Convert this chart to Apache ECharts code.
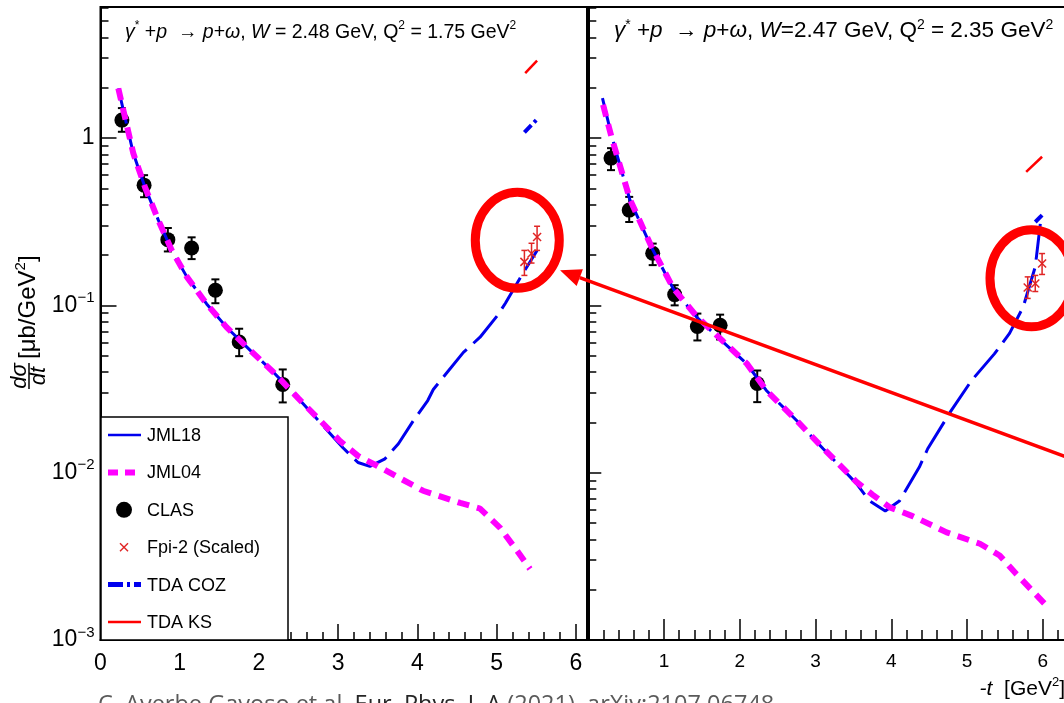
<!DOCTYPE html>
<html>
<head>
<meta charset="utf-8">
<script src="https://cdn.jsdelivr.net/npm/echarts@6.0.0/dist/echarts.min.js"></script>
<style>
  html, body { margin: 0; padding: 0; background: #fff; }
  #chart { width: 1064px; height: 703px; }
</style>
</head>
<body>
<div id="chart"></div>
<script>
  // Left panel: W = 2.48 GeV, Q2 = 1.75 GeV2.
  const leftJml18T = [0.225, 0.414, 0.56, 0.73, 0.90, 1.09, 1.34, 1.59, 1.89, 2.18, 2.50, 2.73, 3.06, 3.25, 3.40, 3.59, 3.76, 3.95, 4.13, 4.20, 4.58, 4.79, 5.01, 5.11, 5.30, 5.51];
  const leftJml18V = [1.98, 0.81, 0.511, 0.323, 0.213, 0.148, 0.102, 0.0741, 0.0538, 0.0400, 0.0277, 0.021, 0.0141, 0.0115, 0.0109, 0.0121, 0.0149, 0.0205, 0.027, 0.0314, 0.0524, 0.0645, 0.087, 0.103, 0.147, 0.213];
  const leftJml04T = [0.225, 0.414, 0.56, 0.73, 0.90, 1.09, 1.34, 1.59, 1.89, 2.18, 2.50, 2.73, 3.02, 3.25, 3.49, 4.07, 4.54, 4.79, 5.04, 5.26, 5.42];
  const leftJml04V = [1.98, 0.81, 0.511, 0.323, 0.213, 0.148, 0.102, 0.0741, 0.0538, 0.0400, 0.0277, 0.0215, 0.0155, 0.0126, 0.0110, 0.0078, 0.0066, 0.0061, 0.0047, 0.0034, 0.00266];
  const leftClasT = [0.27, 0.55, 0.85, 1.15, 1.45, 1.75, 2.3];
  const leftClasV = [1.28, 0.523, 0.247, 0.22, 0.123, 0.0604, 0.0337];
  const leftClasLo = [1.09, 0.443, 0.21, 0.189, 0.103, 0.0497, 0.0263];
  const leftClasHi = [1.51, 0.60, 0.29, 0.255, 0.143, 0.0725, 0.0414];
  const leftFpiT = [5.35, 5.44, 5.51];
  const leftFpiV = [0.182, 0.204, 0.256];
  const leftFpiLo = [0.151, 0.179, 0.213];
  const leftFpiHi = [0.213, 0.235, 0.297];
  const leftCozT = [5.35, 5.52];
  const leftCozV = [1.08, 1.31];
  const leftKsT = [5.36, 5.51];
  const leftKsV = [2.44, 2.90];

  // Right panel: W = 2.47 GeV, Q2 = 2.35 GeV2.
  const rightJml18T = [0.187, 0.31, 0.55, 0.83, 1.12, 1.43, 1.73, 2.09, 2.35, 2.75, 3.10, 3.54, 3.71, 3.92, 4.11, 4.37, 4.48, 4.79, 5.06, 5.36, 5.56, 5.74, 5.90, 5.98];
  const rightJml18V = [1.73, 1.02, 0.425, 0.224, 0.126, 0.085, 0.0632, 0.0448, 0.0310, 0.0205, 0.0139, 0.0086, 0.0068, 0.0059, 0.0068, 0.0108, 0.0139, 0.0235, 0.0356, 0.0513, 0.068, 0.0977, 0.17, 0.346];
  const rightJml04T = [0.195, 0.31, 0.55, 0.83, 1.12, 1.43, 1.73, 2.09, 2.35, 2.75, 3.10, 3.54, 3.75, 3.98, 4.28, 4.73, 5.17, 5.43, 5.65, 6.05];
  const rightJml04V = [1.58, 1.0, 0.43, 0.226, 0.127, 0.086, 0.064, 0.045, 0.031, 0.0205, 0.014, 0.0088, 0.0074, 0.0062, 0.0055, 0.0044, 0.00376, 0.0032, 0.00248, 0.0016];
  const rightClasT = [0.30, 0.54, 0.85, 1.14, 1.44, 1.74, 2.23];
  const rightClasV = [0.759, 0.371, 0.205, 0.116, 0.0748, 0.076, 0.0341];
  const rightClasLo = [0.643, 0.315, 0.174, 0.10, 0.0617, 0.0625, 0.0264];
  const rightClasHi = [0.87, 0.445, 0.234, 0.132, 0.0893, 0.088, 0.0408];
  const rightFpiT = [5.80, 5.90, 5.99];
  const rightFpiV = [0.128, 0.135, 0.178];
  const rightFpiLo = [0.110, 0.121, 0.153];
  const rightFpiHi = [0.148, 0.151, 0.204];
  const rightCozT = [5.90, 5.99];
  const rightCozV = [0.315, 0.346];
  const rightKsT = [5.78, 5.99];
  const rightKsV = [0.628, 0.773];

  // Axes.
  const yMajorTicks = [0.001, 0.01, 0.1, 1];
  const yMinorTicks = [];
  [0.001, 0.01, 0.1, 1].forEach(d => { for (let k = 2; k <= 9; k++) yMinorTicks.push(+(d * k).toPrecision(3)); });
  const legendNames = ['JML18', 'JML04', 'CLAS', 'Fpi-2 (Scaled)', 'TDA COZ', 'TDA KS'];

  const BLUE = '#0000ee';
  const PINK = '#ff00ff';
  const RED = '#ff0000';
  const FPI_RED = '#e02525';
  const FONT = 'Liberation Sans';

  function pairs(t, v) {
    return t.map((x, i) => [x, v[i]]);
  }

  function lineSeries(name, t, v, xi, yi, color, width, dash, z) {
    return {
      name: name, type: 'line', xAxisIndex: xi, yAxisIndex: yi, data: pairs(t, v),
      symbol: 'none', showSymbol: false, z: z,
      lineStyle: { color: color, width: width, type: dash, cap: 'butt' }
    };
  }

  // Vertical error bars with caps, optionally an x marker at the point.
  function barSeries(name, t, v, lo, hi, xi, yi, color, lw, cap, cross, z) {
    return {
      name: name, type: 'custom', xAxisIndex: xi, yAxisIndex: yi, z: z,
      data: t.map((x, i) => [x, v[i], lo[i], hi[i]]),
      renderItem: function (params, api) {
        const c = api.coord([api.value(0), api.value(1)]);
        const a = api.coord([api.value(0), api.value(2)]);
        const b = api.coord([api.value(0), api.value(3)]);
        const st = { stroke: color, lineWidth: lw };
        const kids = [
          { type: 'line', shape: { x1: a[0], y1: a[1], x2: b[0], y2: b[1] }, style: st },
          { type: 'line', shape: { x1: a[0] - cap, y1: a[1], x2: a[0] + cap, y2: a[1] }, style: st },
          { type: 'line', shape: { x1: b[0] - cap, y1: b[1], x2: b[0] + cap, y2: b[1] }, style: st }
        ];
        if (cross) {
          kids.push({ type: 'line', shape: { x1: c[0] - cross, y1: c[1] - cross, x2: c[0] + cross, y2: c[1] + cross }, style: st });
          kids.push({ type: 'line', shape: { x1: c[0] - cross, y1: c[1] + cross, x2: c[0] + cross, y2: c[1] - cross }, style: st });
        }
        return { type: 'group', children: kids };
      }
    };
  }

  function logLabel(v) {
    const e = Math.round(Math.log10(v));
    if (e === 0) return '{n|1}';
    return '{n|10}{e|\u2212' + (-e) + '}';
  }

  function xAxisCfg(grid, max, fontSize, major, minor, showZero) {
    return {
      gridIndex: grid, type: 'value', min: 0, max: max, interval: 1,
      axisLine: { show: true, onZero: false, lineStyle: { color: '#000', width: 2 } },
      axisTick: { show: true, inside: true, length: major, lineStyle: { color: '#000', width: 1.5 } },
      minorTick: { show: true, splitNumber: 5, length: minor, lineStyle: { color: '#000', width: 1.5 } },
      splitLine: { show: false },
      axisLabel: {
        margin: 12, color: '#000', fontSize: fontSize, fontFamily: FONT,
        formatter: v => (Number.isInteger(v) && v <= 6 && (showZero || v > 0)) ? String(v) : ''
      }
    };
  }

  function yAxisCfg(grid, major, showLabel) {
    return {
      gridIndex: grid, type: 'log', logBase: 10, min: 0.001, max: 6.07, position: 'left',
      axisLine: { show: true, onZero: false, lineStyle: { color: '#000', width: 2 } },
      axisTick: { show: true, inside: true, length: major, customValues: yMajorTicks, lineStyle: { color: '#000', width: 1.5 } },
      splitLine: { show: false },
      axisLabel: {
        show: showLabel, customValues: yMajorTicks, margin: 6, formatter: logLabel,
        rich: {
          n: { fontSize: 23, fontFamily: FONT, color: '#000', lineHeight: 30 },
          e: { fontSize: 15, fontFamily: FONT, color: '#000', verticalAlign: 'top', lineHeight: 15 }
        }
      }
    };
  }

  function yMinorCfg(grid) {
    return {
      gridIndex: grid, type: 'log', logBase: 10, min: 0.001, max: 6.07, position: 'left',
      axisLine: { show: false },
      axisTick: { show: true, inside: true, length: 8, customValues: yMinorTicks, lineStyle: { color: '#000', width: 1.5 } },
      axisLabel: { show: false },
      splitLine: { show: false }
    };
  }

  const titleRich = function (size) {
    return {
      r: { fontSize: size, fontFamily: FONT, fontWeight: 'normal', color: '#000', lineHeight: 26 },
      i: { fontSize: size, fontFamily: FONT, fontWeight: 'normal', fontStyle: 'italic', color: '#000', lineHeight: 26 },
      s: { fontSize: Math.round(size * 0.62), fontFamily: FONT, fontWeight: 'normal', color: '#000', verticalAlign: 'top', lineHeight: 13 }
    };
  };

  const option = {
    animation: false,
    backgroundColor: '#fff',
    title: [
      {
        left: 120, top: 15,
        text: '{i|\u03b3}{s|*}{r| +}{i|p}{r|  \u2192 }{i|p}{r|+}{i|\u03c9}{r|, }{i|W}{r| = 2.48 GeV, Q}{s|2}{r| = 1.75 GeV}{s|2}',
        textStyle: { fontWeight: 'normal', rich: titleRich(19.5) }
      },
      {
        left: 609, top: 13,
        text: '{i|\u03b3}{s|*}{r| +}{i|p}{r|  \u2192 }{i|p}{r|+}{i|\u03c9}{r|, }{i|W}{r|=2.47 GeV, Q}{s|2}{r| = 2.35 GeV}{s|2}',
        textStyle: { fontWeight: 'normal', rich: titleRich(22.5) }
      }
    ],
    grid: [
      { left: 100.5, top: 7, width: 486.5, height: 633, outerBoundsMode: 'none', show: true, borderColor: '#000', borderWidth: 2, backgroundColor: 'transparent' },
      { left: 588.3, top: 7, width: 500, height: 633, outerBoundsMode: 'none', show: true, borderColor: '#000', borderWidth: 2, backgroundColor: 'transparent' }
    ],
    xAxis: [
      xAxisCfg(0, 6.14, 23, 16, 8, true),
      xAxisCfg(1, 6.6, 19, 21, 10, false)
    ],
    yAxis: [
      yAxisCfg(0, 16, true),
      yMinorCfg(0),
      yAxisCfg(1, 13, false),
      yMinorCfg(1)
    ],
    series: [
      lineSeries('JML18', leftJml18T, leftJml18V, 0, 0, BLUE, 3, [36, 9], 3),
      lineSeries('JML04', leftJml04T, leftJml04V, 0, 0, PINK, 6, [12, 8], 4),
      barSeries('CLAS bars', leftClasT, leftClasV, leftClasLo, leftClasHi, 0, 0, '#000', 2, 4, 0, 1),
      { name: 'CLAS', type: 'scatter', xAxisIndex: 0, yAxisIndex: 0, data: pairs(leftClasT, leftClasV), symbol: 'circle', symbolSize: 15, itemStyle: { color: '#000', opacity: 1 }, z: 2 },
      barSeries('Fpi-2 (Scaled)', leftFpiT, leftFpiV, leftFpiLo, leftFpiHi, 0, 0, FPI_RED, 1.5, 3, 4, 5),
      lineSeries('TDA COZ', leftCozT, leftCozV, 0, 0, BLUE, 4, [10, 4, 3, 4], 4),
      lineSeries('TDA KS', leftKsT, leftKsV, 0, 0, RED, 2.5, 'solid', 4),

      lineSeries('JML18', rightJml18T, rightJml18V, 1, 2, BLUE, 3, [36, 9], 3),
      lineSeries('JML04', rightJml04T, rightJml04V, 1, 2, PINK, 6, [12, 8], 4),
      barSeries('CLAS bars', rightClasT, rightClasV, rightClasLo, rightClasHi, 1, 2, '#000', 2, 4, 0, 1),
      { name: 'CLAS', type: 'scatter', xAxisIndex: 1, yAxisIndex: 2, data: pairs(rightClasT, rightClasV), symbol: 'circle', symbolSize: 15, itemStyle: { color: '#000', opacity: 1 }, z: 2 },
      barSeries('Fpi-2 (Scaled)', rightFpiT, rightFpiV, rightFpiLo, rightFpiHi, 1, 2, FPI_RED, 1.5, 3, 4, 5),
      lineSeries('TDA COZ', rightCozT, rightCozV, 1, 2, BLUE, 4, [10, 4, 3, 4], 4),
      lineSeries('TDA KS', rightKsT, rightKsV, 1, 2, RED, 2.5, 'solid', 4)
    ]
  };

  const chart = echarts.init(document.getElementById('chart'));
  chart.setOption(option);

  // Pixel positions of annotations, taken from data coordinates.
  const toLeft = p => chart.convertToPixel({ seriesIndex: 0 }, p);
  const toRight = p => chart.convertToPixel({ seriesIndex: 7 }, p);

  function legendGraphics() {
    const x0 = 101, y0 = 417, rowY = 435, step = 37.4;
    const items = [{ type: 'rect', shape: { x: x0, y: y0, width: 187, height: 223 }, style: { fill: '#fff', stroke: '#000', lineWidth: 1.5 }, z: 50 }];
    legendNames.forEach((name, i) => {
      const y = rowY + i * step;
      if (i === 0) items.push({ type: 'line', z: 51, shape: { x1: 108, y1: y, x2: 141, y2: y }, style: { stroke: BLUE, lineWidth: 2.5 } });
      if (i === 1) items.push({ type: 'line', z: 51, shape: { x1: 108, y1: y, x2: 140, y2: y }, style: { stroke: PINK, lineWidth: 6, lineDash: [10, 7] } });
      if (i === 2) items.push({ type: 'circle', z: 51, shape: { cx: 124, cy: y, r: 8 }, style: { fill: '#000' } });
      if (i === 3) {
        items.push({ type: 'line', z: 51, shape: { x1: 120, y1: y - 4, x2: 128, y2: y + 4 }, style: { stroke: FPI_RED, lineWidth: 1.5 } });
        items.push({ type: 'line', z: 51, shape: { x1: 120, y1: y + 4, x2: 128, y2: y - 4 }, style: { stroke: FPI_RED, lineWidth: 1.5 } });
      }
      if (i === 4) items.push({ type: 'line', z: 51, shape: { x1: 108, y1: y, x2: 141, y2: y }, style: { stroke: BLUE, lineWidth: 5, lineDash: [15, 4, 3, 4] } });
      if (i === 5) items.push({ type: 'line', z: 51, shape: { x1: 108, y1: y, x2: 141, y2: y }, style: { stroke: RED, lineWidth: 2.5 } });
      items.push({
        type: 'text', x: 147, y: y + 1, z: 51,
        style: { text: name, fontSize: 18, fontFamily: FONT, fill: '#000', textAlign: 'left', textVerticalAlign: 'middle', align: 'left', verticalAlign: 'middle' }
      });
    });
    return items;
  }

  function annotationGraphics() {
    const c1 = toLeft([5.26, 0.245]);
    const c2 = toRight([5.85, 0.145]);
    const tip = toLeft([5.80, 0.162]);
    const tail = toRight([6.27, 0.0126]);
    const dx = tail[0] - tip[0], dy = tail[1] - tip[1];
    const len = Math.sqrt(dx * dx + dy * dy);
    const ux = dx / len, uy = dy / len;
    const headLen = 21, headHalf = 9;
    const bx = tip[0] + ux * headLen, by = tip[1] + uy * headLen;
    return [
      { type: 'ellipse', shape: { cx: c1[0], cy: c1[1], rx: 42, ry: 48 }, style: { fill: 'none', stroke: RED, lineWidth: 9 }, z: 60 },
      { type: 'ellipse', shape: { cx: c2[0], cy: c2[1], rx: 41.5, ry: 48.5 }, style: { fill: 'none', stroke: RED, lineWidth: 9 }, z: 60 },
      { type: 'line', shape: { x1: bx, y1: by, x2: tail[0] + ux * 40, y2: tail[1] + uy * 40 }, style: { stroke: RED, lineWidth: 3.5 }, z: 60 },
      {
        type: 'polygon', z: 60,
        shape: { points: [tip, [bx - uy * headHalf, by + ux * headHalf], [bx + uy * headHalf, by - ux * headHalf]] },
        style: { fill: RED }
      }
    ];
  }

  function textGraphics() {
    const supStyle = { fontSize: 15, fontFamily: FONT, fill: '#000', verticalAlign: 'top', lineHeight: 15 };
    return [
      // Y axis title, rotated.
      {
        type: 'group', x: 29, y: 376, rotation: Math.PI / 2, z: 40,
        children: [
          { type: 'text', z: 40, x: 0, y: -9, style: { text: 'd\u03c3', font: 'italic 22px "Liberation Sans"', fill: '#000', textAlign: 'center', textVerticalAlign: 'middle', align: 'center', verticalAlign: 'middle' } },
          { type: 'line', z: 40, shape: { x1: -13, y1: 0, x2: 13, y2: 0 }, style: { stroke: '#000', lineWidth: 1.5 } },
          { type: 'text', z: 40, x: 0, y: 10, style: { text: 'dt', font: 'italic 22px "Liberation Sans"', fill: '#000', textAlign: 'center', textVerticalAlign: 'middle', align: 'center', verticalAlign: 'middle' } },
          {
            type: 'text', z: 40, x: 17, y: -1,
            style: {
              text: '{r|[\u03bcb/GeV}{s|2}{r|]}', textAlign: 'left', textVerticalAlign: 'middle', align: 'left', verticalAlign: 'middle',
              rich: { r: { fontSize: 24, fontFamily: FONT, fill: '#000', lineHeight: 30 }, s: supStyle }
            }
          }
        ]
      },
      // X axis title.
      {
        type: 'text', x: 1065, y: 689, z: 40,
        style: {
          text: '{i|-t}{r|  [GeV}{s|2}{r|]}', textAlign: 'right', textVerticalAlign: 'middle', align: 'right', verticalAlign: 'middle',
          rich: {
            i: { fontSize: 21, fontFamily: FONT, fontStyle: 'italic', fill: '#000', lineHeight: 26 },
            r: { fontSize: 21, fontFamily: FONT, fill: '#000', lineHeight: 26 },
            s: { fontSize: 13, fontFamily: FONT, fill: '#000', verticalAlign: 'top', lineHeight: 13 }
          }
        }
      },
      // Citation line, cut by the bottom edge.
      {
        type: 'text', x: 98, y: 693, z: 40,
        style: {
          text: '{g|C. Averbe Gayoso et al. }{k|Eur. Phys. J. A}{g| (2021), arXiv:2107.06748}',
          textAlign: 'left', textVerticalAlign: 'top', align: 'left', verticalAlign: 'top',
          rich: {
            g: { fontSize: 23.5, fontFamily: 'Open Sans', fill: '#5a5a5a' },
            k: { fontSize: 23.5, fontFamily: 'Open Sans', fill: '#262626' }
          }
        }
      }
    ];
  }

  chart.setOption({ graphic: legendGraphics().concat(annotationGraphics(), textGraphics()) });
</script>
</body>
</html>
